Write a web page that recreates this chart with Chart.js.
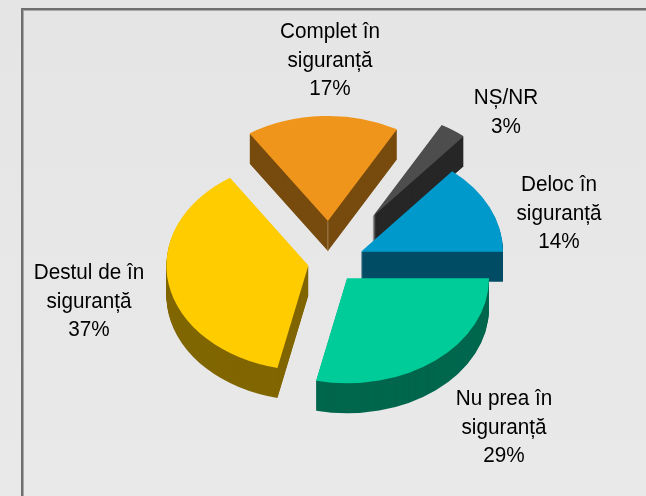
<!DOCTYPE html>
<html>
<head>
<meta charset="utf-8">
<style>html,body{margin:0;padding:0;background:#e7e7e7}#wrap{width:646px;height:496px}canvas{display:block}</style>
<script src="https://cdn.jsdelivr.net/npm/chart.js@4"></script>
</head>
<body>
<div id="wrap"><canvas id="c" width="646" height="496"></canvas></div>
<script>
const categories = ["Complet în siguranță","NȘ/NR","Deloc în siguranță","Nu prea în siguranță","Destul de în siguranță"];
const shares = [17.4,3.0,13.9,28.5,37.2];
const percentLabels = ["17%","3%","14%","29%","37%"];
const labelLines = [["Complet în","siguranță"],["NȘ/NR"],["Deloc în","siguranță"],["Nu prea în","siguranță"],["Destul de în","siguranță"]];
const topColors = ["#f0951c","#4d4d4d","#0099cc","#00cc99","#ffcc00"];
const wallColors = ["#774a0d","#262626","#004c66","#00664d","#806600"];
const explode = [56,75,34.2,27.2,22];
const labelAnchors = [[330,32],[506,98],[559,185],[504,399],[89,273]];
const drawOrder = [0,1,2,4,3];
const SQUASH = 0.74, DEPTH = 30, LINE = 28.6, TEXT_X = 0.94;

const pie3d = {
  id:'pie3d',
  beforeDraw(chart){
    const {ctx,width,height} = chart;
    const g = ctx.createLinearGradient(0,0,0,height);
    g.addColorStop(0,'#e5e5e5'); g.addColorStop(1,'#e9e9e9');
    ctx.save();
    ctx.fillStyle = g; ctx.fillRect(0,0,width,height);
    ctx.fillStyle = '#6f6f6f';
    ctx.fillRect(21,8,width-21,2);
    ctx.fillRect(21,8,2,height-8);
    ctx.fillStyle = '#a8a8a8';
    ctx.fillRect(23,10,width-23,1);
    ctx.fillRect(23,10,1,height-10);
    ctx.restore();
  },
  beforeDatasetDraw(chart,args){
    const ctx = chart.ctx, arcs = chart.getDatasetMeta(args.index).data;
    const place = (arc,i,dy)=>{
      const mid = (arc.startAngle+arc.endAngle)/2;
      ctx.translate(arc.x, arc.y+dy);
      ctx.scale(1,SQUASH);
      ctx.translate(-arc.x,-arc.y);
      ctx.translate(Math.cos(mid)*explode[i],Math.sin(mid)*explode[i]);
    };
    for(const i of drawOrder){
      const arc = arcs[i], opts = arc.options;
      arc.options = Object.assign(Object.create(opts),{backgroundColor:wallColors[i]});
      for(let d=DEPTH;d>=1;d--){
        ctx.save(); place(arc,i,d); arc.draw(ctx); ctx.restore();
      }
      arc.options = opts;
      ctx.save(); place(arc,i,0); arc.draw(ctx); ctx.restore();
      if(i===0){
        const mid=(arc.startAngle+arc.endAngle)/2;
        const ax=arc.x+Math.cos(mid)*explode[i], ay=arc.y+Math.sin(mid)*explode[i]*SQUASH;
        ctx.save();ctx.strokeStyle='#a5845a';ctx.lineWidth=1;
        ctx.beginPath();ctx.moveTo(ax,ay);ctx.lineTo(ax,ay+DEPTH);ctx.stroke();ctx.restore();
      }
    }
    return false;
  },
  afterDraw(chart){
    const ctx = chart.ctx;
    ctx.save();
    ctx.fillStyle='#000';
    ctx.font='22px "Liberation Sans", Arial, sans-serif';
    ctx.textAlign='center'; ctx.textBaseline='middle';
    labelLines.forEach((lines,i)=>{
      const all=[...lines,percentLabels[i]];
      all.forEach((t,k)=>{
        ctx.save();
        ctx.translate(labelAnchors[i][0],labelAnchors[i][1]+k*LINE);
        ctx.scale(TEXT_X,1);
        ctx.fillText(t,0,0);
        ctx.restore();
      });
    });
    ctx.restore();
  }
};

new Chart(document.getElementById('c'),{
  type:'pie',
  data:{labels:categories,datasets:[{data:shares,backgroundColor:topColors,borderWidth:0}]},
  options:{
    responsive:false,animation:false,rotation:-33.5,
    layout:{padding:{left:188,right:174,top:120.5,bottom:91.5}},
    plugins:{legend:{display:false},tooltip:{enabled:false}}
  },
  plugins:[pie3d]
});
</script>
</body>
</html>
